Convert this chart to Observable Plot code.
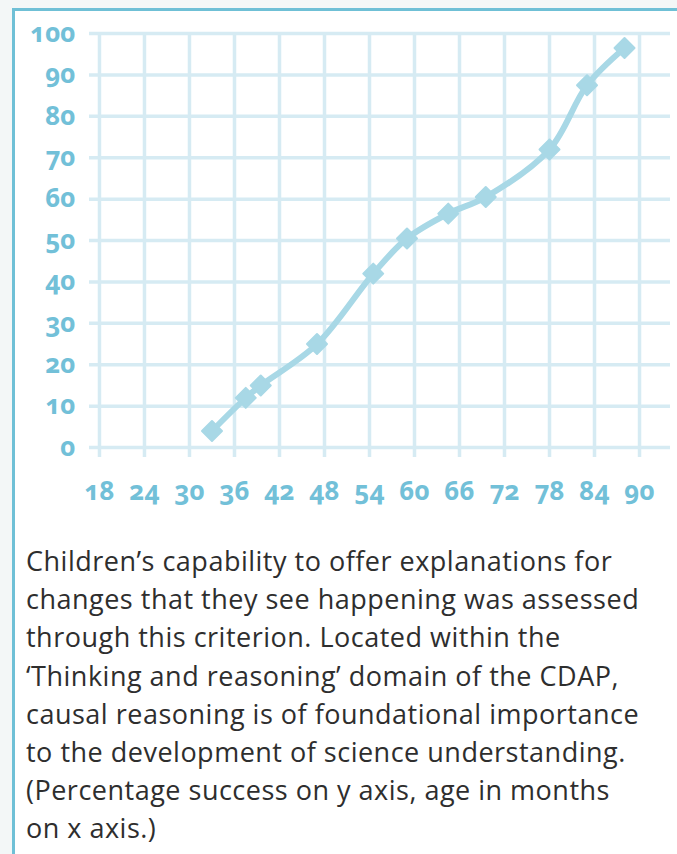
<!DOCTYPE html>
<html>
<head>
<meta charset="utf-8">
<script src="https://cdn.jsdelivr.net/npm/d3@7"></script>
<script src="https://cdn.jsdelivr.net/npm/@observablehq/plot@0.6"></script>
<style>
  html, body { margin: 0; padding: 0; }
  body { width: 677px; height: 854px; position: relative; overflow: hidden; background: #f3f7f7; }
  #frame { position: absolute; left: 12px; top: 8px; right: 0; bottom: 0; background: #ffffff;
           border-left: 3px solid #6fc0d6; border-top: 3px solid #6fc0d6; }
  #chart { position: absolute; left: 0; top: 0; }
  #chart svg { background: transparent; overflow: visible; }
  #chart svg g[aria-label="x-grid"], #chart svg g[aria-label="y-grid"] { filter: blur(0.6px); }
  #caption { position: absolute; left: 26px; top: 542px; width: 650px; white-space: nowrap;
             font-family: "Open Sans", Lato, sans-serif; font-size: 27px; line-height: 38.2px;
             color: #2e2e2e; letter-spacing: 0.5px; }
  .tick-label { font-family: "Noto Sans", "Open Sans", sans-serif; font-weight: 700;
                font-variant-numeric: oldstyle-nums; font-feature-settings: "onum" 1; }
</style>
</head>
<body>
<div id="frame"></div>
<div id="chart"></div>
<div id="caption"></div>
<script>
// Age in months (x) and percentage success (y)
const ages =    [33, 37.5, 39.5, 47, 54.5, 59, 64.5, 69.5, 78, 83, 88];
const success = [4, 12, 15, 25, 42, 50.5, 56.5, 60.5, 72, 87.5, 96.5];
const xTicks = [18, 24, 30, 36, 42, 48, 54, 60, 66, 72, 78, 84, 90];
const yTicks = [0, 10, 20, 30, 40, 50, 60, 70, 80, 90, 100];
const captionLines = [
  "Children\u2019s capability to offer explanations for",
  "changes that they see happening was assessed",
  "through this criterion. Located within the",
  "\u2018Thinking and reasoning\u2019 domain of the CDAP,",
  "causal reasoning is of foundational importance",
  "to the development of science understanding.",
  "(Percentage success on y axis, age in months",
  "on x axis.)"
];

const data = ages.map((a, i) => ({age: a, pct: success[i]}));

const gridColor = "#d6ebf3";
const labelColor = "#72c0d8";
const lineColor = "#a8d8e6";

const plot = Plot.plot({
  width: 677,
  height: 520,
  marginLeft: 89,
  marginRight: 7,
  marginTop: 33,
  marginBottom: 63,
  style: {background: "transparent", overflow: "visible"},
  x: {domain: [16.67, 94.13]},
  y: {domain: [-2.4, 100]},
  marks: [
    Plot.gridX(xTicks, {stroke: gridColor, strokeOpacity: 1, strokeWidth: 3.5}),
    Plot.gridY(yTicks, {stroke: gridColor, strokeOpacity: 1, strokeWidth: 3.5}),
    Plot.axisY(yTicks, {tickSize: 0, tickPadding: 14, fontSize: 26, fill: labelColor, label: null,
                        className: "tick-label"}),
    Plot.axisX(xTicks, {tickSize: 0, tickPadding: 24, fontSize: 26, fill: labelColor, label: null,
                        className: "tick-label"}),
    Plot.line(data, {x: "age", y: "pct", curve: "catmull-rom", stroke: lineColor, strokeWidth: 6,
                     strokeLinejoin: "round", strokeLinecap: "round"}),
    Plot.dot(data, {x: "age", y: "pct", symbol: "diamond2", r: 9, fill: lineColor, stroke: lineColor,
                    strokeWidth: 2, strokeLinejoin: "round"})
  ]
});
document.getElementById("chart").appendChild(plot);

const cap = document.getElementById("caption");
captionLines.forEach(t => {
  const d = document.createElement("div");
  d.textContent = t;
  cap.appendChild(d);
});
</script>
</body>
</html>
